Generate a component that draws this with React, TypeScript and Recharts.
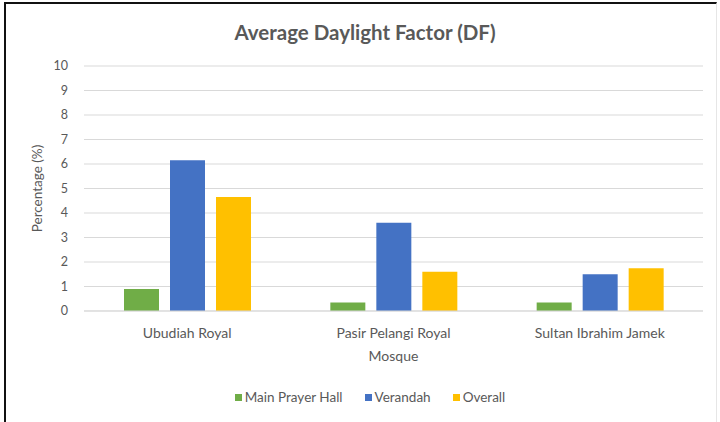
import React from 'react';
import { BarChart, Bar, XAxis, YAxis, CartesianGrid, Legend } from 'recharts';

const categories = ['Ubudiah Royal', 'Pasir Pelangi Royal', 'Sultan Ibrahim Jamek'];
const mainPrayerHall = [0.9, 0.35, 0.35];
const verandah = [6.15, 3.6, 1.5];
const overall = [4.65, 1.6, 1.75];
const yTicks = [0, 1, 2, 3, 4, 5, 6, 7, 8, 9, 10];

const data = categories.map((name, i) => ({
  name,
  'Main Prayer Hall': mainPrayerHall[i],
  Verandah: verandah[i],
  Overall: overall[i],
}));

const FONT = 'Lato, "Open Sans", sans-serif';
const TXT = '#595959';

const legendItems = [
  { label: 'Main Prayer Hall', color: '#70AD47' },
  { label: 'Verandah', color: '#4472C4' },
  { label: 'Overall', color: '#FFC000' },
];

const LegendContent = () => (
  <div style={{ display: 'flex', justifyContent: 'center', fontFamily: FONT, fontSize: 13.5, color: TXT, paddingLeft: 20 }}>
    {legendItems.map((it) => (
      <div key={it.label} style={{ display: 'flex', alignItems: 'center', margin: '0 11px' }}>
        <span style={{ width: 7, height: 7, background: it.color, marginRight: 3, display: 'inline-block' }} />
        <span>{it.label}</span>
      </div>
    ))}
  </div>
);

export default function App() {
  return (
    <div style={{ position: 'absolute', left: 0, top: 0, width: 720, height: 422, background: '#fff', overflow: 'hidden' }}>
      <div
        style={{
          position: 'absolute',
          left: 4,
          top: 2,
          width: 710,
          height: 430,
          borderTop: '2px solid #111',
          borderLeft: '2px solid #111',
          borderRight: '1px solid #e6e6e6',
        }}
      />
      <div
        style={{
          position: 'absolute',
          left: 0,
          top: 20,
          width: 730,
          textAlign: 'center',
          fontFamily: FONT,
          fontWeight: 700,
          fontSize: 20.5,
          color: TXT,
        }}
      >
        Average Daylight Factor (DF)
      </div>
      <div style={{ position: 'absolute', left: 0, top: 0 }}>
        <BarChart
          width={720}
          height={422}
          data={data}
          margin={{ top: 66, right: 17, bottom: 21, left: 20 }}
          barSize={35}
          barGap={11}
        >
          <CartesianGrid vertical={false} stroke="#d9d9d9" />
          <XAxis
            dataKey="name"
            height={60}
            tickLine={false}
            axisLine={{ stroke: '#d9d9d9' }}
            tick={{ fill: TXT, fontSize: 14, fontFamily: FONT }}
            tickMargin={11}
            label={{ value: 'Mosque', position: 'insideTop', offset: 40, fill: TXT, fontSize: 14, fontFamily: FONT }}
          />
          <YAxis
            width={64}
            domain={[0, 10]}
            ticks={yTicks}
            interval={0}
            tickLine={false}
            axisLine={false}
            tickSize={0}
            tickMargin={16}
            tick={{ fill: TXT, fontSize: 12.5, fontFamily: FONT }}
            label={{
              value: 'Percentage (%)',
              angle: -90,
              position: 'insideLeft',
              offset: 17,
              fill: TXT,
              fontSize: 13.5,
              fontFamily: FONT,
              style: { textAnchor: 'middle' },
            }}
          />
          <Legend verticalAlign="bottom" height={30} content={<LegendContent />} wrapperStyle={{ top: 389, left: 0, width: 720 }} />
          <Bar dataKey="Main Prayer Hall" fill="#70AD47" isAnimationActive={false} />
          <Bar dataKey="Verandah" fill="#4472C4" isAnimationActive={false} />
          <Bar dataKey="Overall" fill="#FFC000" isAnimationActive={false} />
        </BarChart>
      </div>
    </div>
  );
}
